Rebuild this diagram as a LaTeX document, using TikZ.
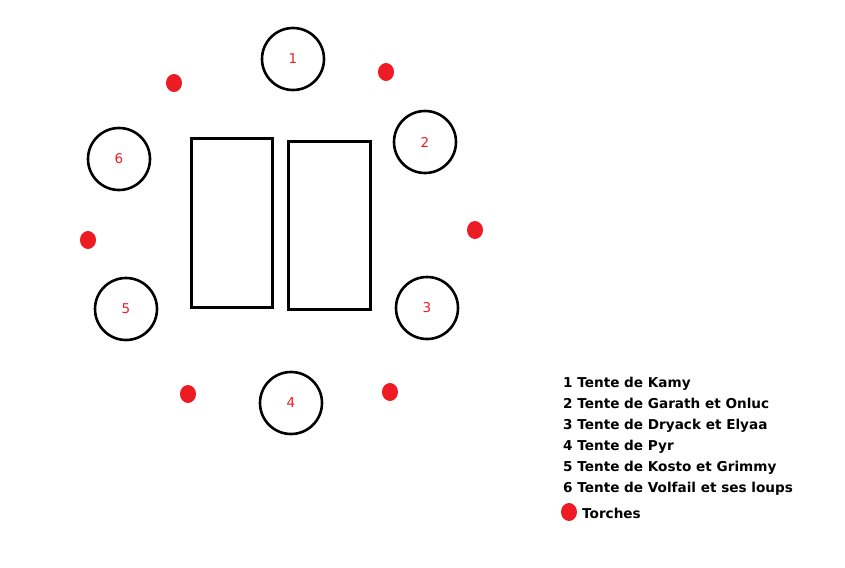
\documentclass[tikz,border=0pt]{standalone}
\usepackage{fontspec}
\setmainfont{DejaVu Sans}
\definecolor{pred}{HTML}{ED1C24}
\begin{document}
\begin{tikzpicture}[x=1pt,y=-1pt,
  tent/.style={draw=black,line width=2.6pt,circle,minimum size=62pt,inner sep=0pt,text=pred,font=\fontsize{13.5}{15}\selectfont},
  table/.style={draw=black,line width=3pt},
  leg/.style={anchor=base west,inner sep=0pt,font=\fontsize{13.6}{16}\selectfont\bfseries}]
\useasboundingbox[fill=white] (0,0) rectangle (845,567);
\node[tent] (t1) at (293,59) {1};
\node[tent] (t2) at (425,142) {2};
\node[tent] (t3) at (427,308) {3};
\node[tent] (t4) at (291,403) {4};
\node[tent] (t5) at (126,309) {5};
\node[tent] (t6) at (119,159) {6};
\draw[table] (191,138) rectangle (272,307);
\draw[table] (288,141) rectangle (370,309);
\fill[pred] (174,83) ellipse (8pt and 9pt);
\fill[pred] (386,72) ellipse (8pt and 9pt);
\fill[pred] (88,240) ellipse (8pt and 9pt);
\fill[pred] (475,230) ellipse (8pt and 9pt);
\fill[pred] (188,394) ellipse (8pt and 9pt);
\fill[pred] (390,392) ellipse (8pt and 9pt);
\fill[pred] (569,512) ellipse (8pt and 9pt);
\node[leg] (l1) at (563,387) {1 Tente de Kamy};
\node[leg] (l2) at (563,408) {2 Tente de Garath et Onluc};
\node[leg] (l3) at (563,429) {3 Tente de Dryack et Elyaa};
\node[leg] (l4) at (563,450) {4 Tente de Pyr};
\node[leg] (l5) at (563,471) {5 Tente de Kosto et Grimmy};
\node[leg] (l6) at (563,492) {6 Tente de Volfail et ses loups};
\node[leg] (l7) at (582,518) {Torches};
\end{tikzpicture}
\end{document}
